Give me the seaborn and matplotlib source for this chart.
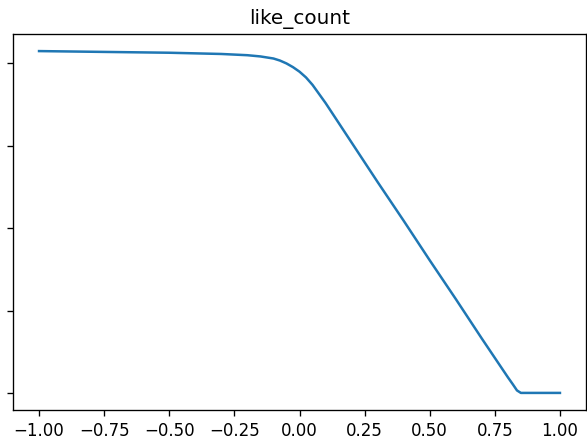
import matplotlib
matplotlib.use("Agg")
import matplotlib.pyplot as plt
import seaborn as sns
import pandas as pd

# Values
x_values = [-1.0, -0.75, -0.5, -0.3, -0.2, -0.15, -0.1, -0.075, -0.05, -0.025,
            0.0, 0.025, 0.05, 0.075, 0.1, 0.125, 0.15, 0.2, 0.3, 0.4, 0.5,
            0.6, 0.7, 0.8, 0.82, 0.835, 0.85, 0.9, 1.0]
y_values = [4.15, 4.14, 4.13, 4.115, 4.10, 4.085, 4.06, 4.035, 4.0, 3.955,
            3.90, 3.83, 3.74, 3.63, 3.52, 3.40, 3.28, 3.04, 2.56, 2.09, 1.61,
            1.14, 0.66, 0.19, 0.10, 0.03, 0.0, 0.0, 0.0]
title_text = "like_count"
x_ticks = [-1.0, -0.75, -0.5, -0.25, 0.0, 0.25, 0.5, 0.75, 1.0]
y_ticks = [0, 1, 2, 3, 4]

df = pd.DataFrame({"x": x_values, "y": y_values})

fig = plt.figure(figsize=(587 / 120, 443 / 120), dpi=120)
ax = fig.add_axes([13 / 587, 33 / 443, 573 / 587, 376 / 443])
sns.lineplot(data=df, x="x", y="y", ax=ax, color="#1f77b4", linewidth=1.5)
ax.set_xticks(x_ticks)
ax.set_xticklabels([f"{t:.2f}".replace("-", "\u2212") for t in x_ticks])
ax.set_yticks(y_ticks)
ax.set_yticklabels([])
ax.set_xlabel("")
ax.set_ylabel("")
ax.set_title(title_text)
fig.savefig("out.png", dpi=120)
